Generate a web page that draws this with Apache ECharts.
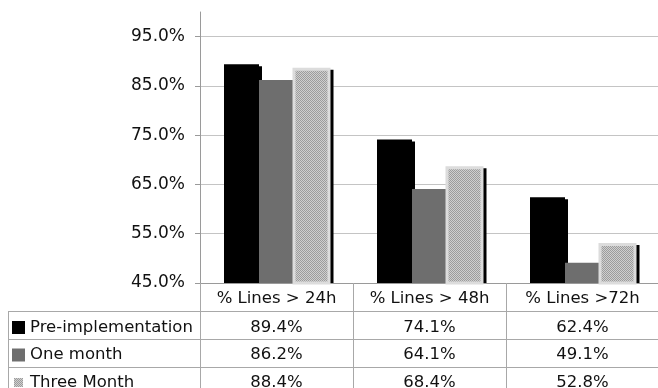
<!DOCTYPE html>
<html>
<head>
<meta charset="utf-8">
<style>
  html, body { margin: 0; padding: 0; background: #fff; }
  #chart { width: 658px; height: 388px; }
</style>
<script src="https://cdn.jsdelivr.net/npm/echarts@6/dist/echarts.min.js"></script>
</head>
<body>
<div id="chart"></div>
<script>
// Share of lines open longer than each threshold, per measurement period
const categories = ['% Lines > 24h', '% Lines > 48h', '% Lines >72h'];
const seriesNames = ['Pre-implementation', 'One month', 'Three Month'];
const preImplementation = [89.4, 74.1, 62.4];
const oneMonth = [86.2, 64.1, 49.1];
const threeMonth = [88.4, 68.4, 52.8];
const yTicks = { min: 45, max: 100, step: 10 };

const rows = [preImplementation, oneMonth, threeMonth];
const FONT = 'DejaVu Sans, Verdana, sans-serif';
const TEXT = '#111';
const RULE = '#a8a8a8';

// Fine dotted fill used for the "Three Month" bars
function dotPattern() {
  const c = document.createElement('canvas');
  c.width = 2; c.height = 2;
  const g = c.getContext('2d');
  g.fillStyle = '#cfcfcf'; g.fillRect(0, 0, 2, 2);
  g.fillStyle = '#9c9c9c'; g.fillRect(0, 0, 1, 1); g.fillRect(1, 1, 1, 1);
  return { image: c, repeat: 'repeat' };
}

const BAR_W = 35;
const barFills = ['#000', '#6e6e6e', dotPattern()];
const barOffsets = [-1.5 * BAR_W, -0.5 * BAR_W, 0.5 * BAR_W];

// Each bar: a hard black drop shadow, then the bar itself (the last one framed in light grey)
function makeRenderer(s) {
  return function (params, api) {
    const idx = api.value(0);
    const top = api.coord([idx, api.value(1)]);
    const base = api.coord([idx, yTicks.min]);
    const left = Math.round(top[0] + barOffsets[s]);
    const y0 = top[1];
    const h = base[1] - y0;
    const framed = s === 2;
    const pad = framed ? 1.5 : 0;
    return {
      type: 'group',
      children: [
        {
          type: 'rect',
          shape: { x: left - pad + 3, y: y0 - pad + 2, width: BAR_W + 2 * pad, height: h + pad - 2 },
          style: { fill: '#000' }
        },
        {
          type: 'rect',
          shape: { x: left, y: y0, width: BAR_W, height: h },
          style: framed
            ? { fill: barFills[s], stroke: '#dcdcdc', lineWidth: 3 }
            : { fill: barFills[s] }
        }
      ]
    };
  };
}

// Table rows below the plot are extra category axes whose labels carry the values
const LABEL_MARGIN = 7.5;
const rowOffsets = [29.5, 56.5, 84];
const valueAxes = rows.map((vals, r) => ({
  type: 'category',
  gridIndex: 0,
  position: 'bottom',
  offset: rowOffsets[r],
  data: categories,
  axisLine: { show: false },
  axisTick: { show: false },
  splitLine: { show: false },
  axisLabel: {
    interval: 0, margin: LABEL_MARGIN, fontFamily: FONT, fontSize: 16.5, lineHeight: 16, color: TEXT,
    formatter: (v, i) => vals[i].toFixed(1) + '%'
  }
}));

const chart = echarts.init(document.getElementById('chart'), null, { renderer: 'canvas' });
chart.setOption({
  animation: false,
  backgroundColor: '#fff',
  grid: { left: 200, right: -1, top: 12, bottom: 105, containLabel: false, outerBoundsMode: 'none' },
  legend: {
    orient: 'vertical',
    left: 12,
    top: 319,
    height: 120,
    padding: 0,
    itemWidth: 13,
    itemHeight: 13,
    itemGap: 10.5,
    selectedMode: false,
    textStyle: { fontFamily: FONT, fontSize: 16.5, lineHeight: 16, color: TEXT },
    itemStyle: { borderWidth: 0, shadowBlur: 0, shadowOffsetX: 0, shadowOffsetY: 0, shadowColor: 'transparent' },
    data: [
      { name: seriesNames[0], icon: 'rect' },
      { name: seriesNames[1], icon: 'rect' },
      { name: seriesNames[2], icon: 'path://M0,0M2,2L11,2L11,11L2,11ZM13,13' }
    ]
  },
  xAxis: [{
    type: 'category',
    gridIndex: 0,
    position: 'bottom',
    data: categories,
    axisLine: { show: true, lineStyle: { color: '#9a9a9a', width: 1 } },
    axisTick: { show: true, interval: 0, length: 112, lineStyle: { color: RULE, width: 1 } },
    axisLabel: { interval: 0, margin: LABEL_MARGIN, fontFamily: FONT, fontSize: 16.5, lineHeight: 16, color: TEXT },
    splitLine: { show: false }
  }].concat(valueAxes),
  yAxis: {
    type: 'value',
    min: yTicks.min,
    max: yTicks.max,
    interval: yTicks.step,
    axisLine: { show: true, lineStyle: { color: '#9a9a9a', width: 1 } },
    axisTick: { show: true, length: 5, lineStyle: { color: '#9a9a9a' } },
    axisLabel: {
      margin: 15, fontFamily: FONT, fontSize: 17, color: TEXT, showMaxLabel: false,
      formatter: v => v.toFixed(1) + '%'
    },
    splitLine: { show: true, showMaxLine: false, lineStyle: { color: '#c4c4c4', width: 1 } }
  },
  series: rows.map((vals, i) => ({
    name: seriesNames[i],
    type: 'custom',
    xAxisIndex: 0,
    itemStyle: { color: barFills[i] },
    encode: { x: 0, y: 1 },
    renderItem: makeRenderer(i),
    data: vals.map((v, k) => [k, v])
  })),
  graphic: [
    { type: 'line', shape: { x1: 8, y1: 311.5, x2: 658, y2: 311.5 }, style: { stroke: RULE, lineWidth: 1 } },
    { type: 'line', shape: { x1: 8, y1: 339.5, x2: 658, y2: 339.5 }, style: { stroke: RULE, lineWidth: 1 } },
    { type: 'line', shape: { x1: 8, y1: 367.5, x2: 658, y2: 367.5 }, style: { stroke: RULE, lineWidth: 1 } },
    { type: 'line', shape: { x1: 8.5, y1: 311, x2: 8.5, y2: 388 }, style: { stroke: RULE, lineWidth: 1 } }
  ]
});
</script>
</body>
</html>
